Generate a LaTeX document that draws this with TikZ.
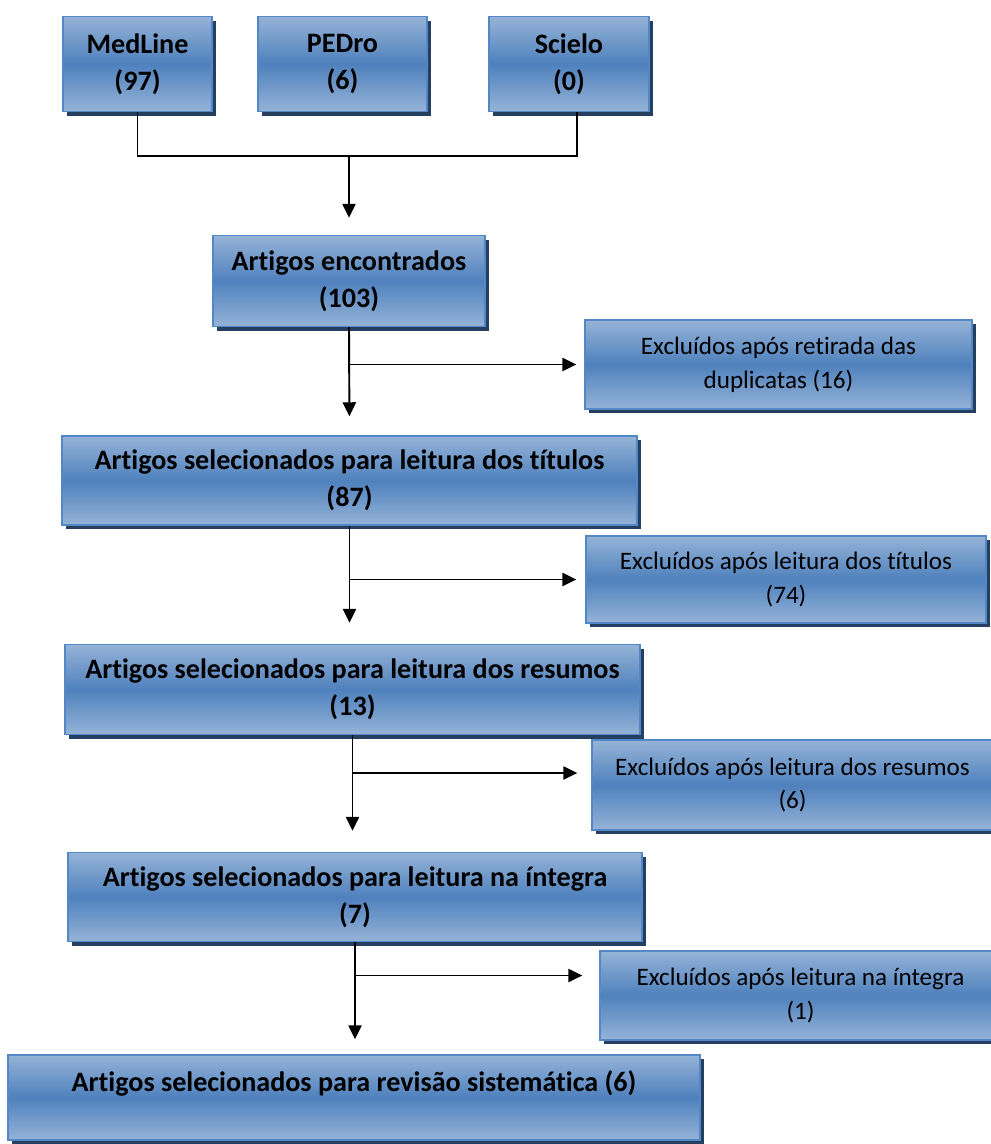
\documentclass[tikz,border=0pt]{standalone}
\usepackage{fontspec}
\setmainfont{Carlito}[Ligatures=NoCommon]
\usetikzlibrary{arrows.meta,shadows}

\definecolor{boxlight}{RGB}{149,179,215}
\definecolor{boxmid}{RGB}{79,129,189}
\definecolor{boxedge}{RGB}{84,135,197}
\definecolor{boxshadow}{RGB}{36,63,96}

\tikzset{
	box/.style={draw=boxedge, line width=0.8pt, top color=boxlight, bottom color=boxlight, middle color=boxmid,
		drop shadow={shadow xshift=2.3pt, shadow yshift=-2.3pt, fill=boxshadow, opacity=1},
		align=center, inner sep=0pt},
	mainbox/.style={box, font=\fontsize{16}{21.3}\selectfont\bfseries},
	outbox/.style={box, font=\fontsize{14.3}{19.3}\selectfont},
	link/.style={line width=1.1pt},
}

\begin{document}
\begin{tikzpicture}[x=0.02cm, y=-0.02cm, >={Triangle[length=8pt,width=7.5pt]}]
	\useasboundingbox (0,0) rectangle (991,1144);

	% databases
	\node[mainbox, minimum width=2.98cm, minimum height=1.90cm] (medline) at (137.5,64) {MedLine\\(97)};
	\node[mainbox, minimum width=3.38cm, minimum height=1.90cm] (pedro) at (342.5,64) {PEDro\\(6)};
	\node[mainbox, minimum width=3.20cm, minimum height=1.90cm] (scielo) at (569,64) {Scielo\\(0)};

	% selection steps
	\node[mainbox, minimum width=5.44cm, minimum height=1.82cm] (enc) at (349,281) {Artigos encontrados\\(103)};
	\node[mainbox, minimum width=11.50cm, minimum height=1.78cm] (tit) at (349.5,480.5) {Artigos selecionados para leitura dos títulos\\(87)};
	\node[mainbox, minimum width=11.50cm, minimum height=1.80cm] (res) at (352.5,689.5) {Artigos selecionados para leitura dos resumos\\(13)};
	\node[mainbox, minimum width=11.48cm, minimum height=1.78cm] (int) at (355,897) {Artigos selecionados para leitura na íntegra\\(7)};
	\node[mainbox, minimum width=13.84cm, minimum height=1.70cm] (rev) at (354,1097.5) {Artigos selecionados para revisão sistemática (6)\\[-9pt]\strut};

	% exclusions
	\node[outbox, minimum width=7.74cm, minimum height=1.78cm] (dup) at (778.5,364.5) {Excluídos após retirada das\\duplicatas (16)};
	\node[outbox, minimum width=8.00cm, minimum height=1.74cm] (extit) at (786,579.5) {Excluídos após leitura dos títulos\\(74)};
	\node[outbox, minimum width=8.02cm, minimum height=1.80cm] (exres) at (792.5,785) {Excluídos após leitura dos resumos\\(6)};
	\node[outbox, minimum width=8.02cm, minimum height=1.78cm] (exint) at (800.5,995.5) {Excluídos após leitura na íntegra\\(1)};

	% merge of the databases
	\coordinate (join) at (349,156);
	\coordinate (sciout) at ([xshift=0.16cm]scielo.south);
	\draw[line width=0.6pt] (medline.south) |- (join) -| (sciout);
	\draw[link, ->, shorten >=0.34cm] (join) -- (enc.north);

	% main flow
	\draw[link, ->, shorten >=0.38cm] (enc.south) -- (tit.north);
	\draw[link, ->, shorten >=0.42cm] (tit.south) -- (tit.south |- res.north);
	\draw[link, ->, shorten >=0.42cm] (res.south) -- (res.south |- int.north);
	\draw[link, ->, shorten >=0.30cm] (int.south) -- (int.south |- rev.north);

	% branches to the exclusions
	\coordinate (resout) at ([yshift=0.24cm]exres.west);
	\coordinate (intout) at ([yshift=0.40cm]exint.west);
	\draw[link, ->, shorten >=0.16cm] (enc.south |- dup.west) -- (dup.west);
	\draw[link, ->, shorten >=0.18cm] (tit.south |- extit.west) -- (extit.west);
	\draw[link, ->, shorten >=0.28cm] (res.south |- resout) -- (resout);
	\draw[link, ->, shorten >=0.34cm] (int.south |- intout) -- (intout);
\end{tikzpicture}
\end{document}
